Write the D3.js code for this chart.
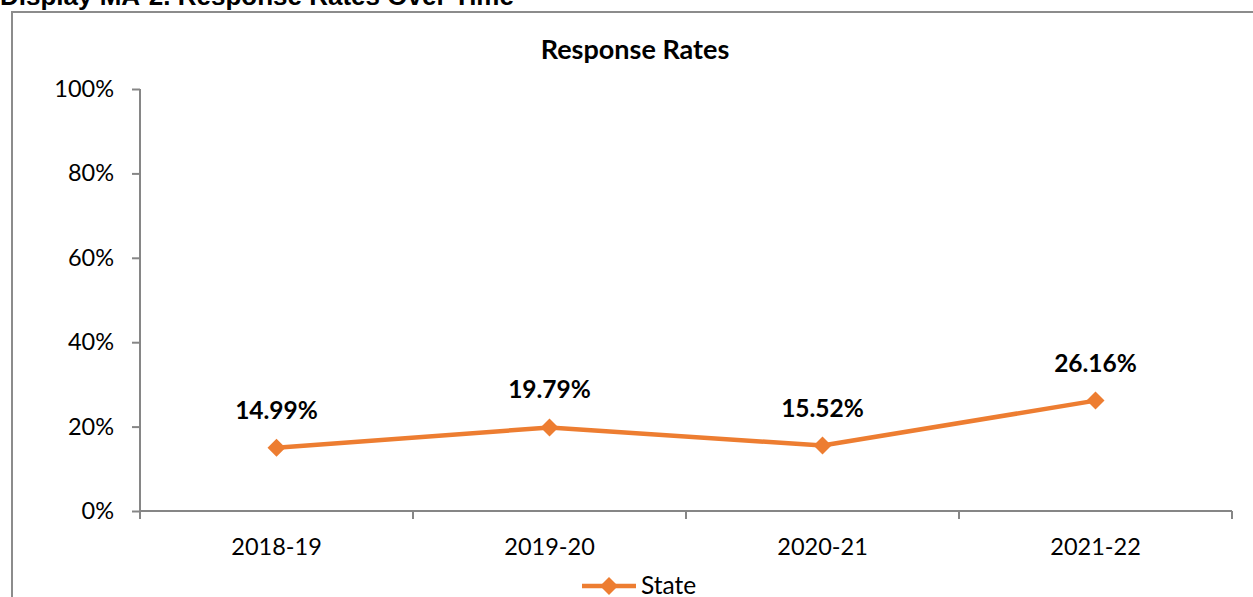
<!DOCTYPE html>
<html><head><meta charset="utf-8">
<script src="https://cdn.jsdelivr.net/npm/d3@7"></script>
<style>body{margin:0;background:#fff}svg{display:block}</style>
</head><body>
<script>
const categories = ["2018-19","2019-20","2020-21","2021-22"];
const stateValues = [14.99, 19.79, 15.52, 26.16];
const yTicks = [0,20,40,60,80,100];
const seriesName = "State";
const chartTitle = "Response Rates";
const displayTitle = "Display MA-2. Response Rates Over Time";

const W = 1253, H = 597;
const svg = d3.select("body").append("svg").attr("width", W).attr("height", H);
const font = "Lato, 'Open Sans', sans-serif";
const orange = "#ED7D31", axisCol = "#868686";

// outer frame
svg.append("path").attr("d", `M12,${H+2} V12 H${W+2}`).attr("fill","none").attr("stroke","#8c8c8c").attr("stroke-width",2);
svg.append("text").attr("x",0).attr("y",5).attr("font-family","'Liberation Sans', Arial, sans-serif")
  .attr("font-weight","bold").attr("font-size",26).attr("fill","#000").text(displayTitle);

const x = d3.scaleBand().domain(categories).range([140, 1232]);
const y = d3.scaleLinear().domain([0,100]).range([511, 89]);

// chart title
svg.append("text").attr("x",635).attr("y",59).attr("text-anchor","middle").attr("font-family",font)
  .attr("font-weight","bold").attr("font-size",27).text(chartTitle);

// y axis
const yAxis = svg.append("g").attr("transform","translate(140,0)")
  .call(d3.axisLeft(y).tickValues(yTicks).tickFormat(d=>d+"%").tickSize(8).tickPadding(18));
yAxis.select(".domain").attr("stroke",axisCol).attr("stroke-width",2).attr("d","M0,89V511");
yAxis.selectAll(".tick line").attr("stroke",axisCol).attr("stroke-width",2);
yAxis.selectAll("text").attr("font-family",font).attr("font-size",23.5).attr("fill","#000");

// x axis
const xAxis = svg.append("g").attr("transform","translate(0,511)")
  .call(d3.axisBottom(x).tickSize(0));
xAxis.select(".domain").attr("stroke",axisCol).attr("stroke-width",2).attr("d","M140,0H1232");
xAxis.selectAll("text").attr("font-family",font).attr("font-size",23.5).attr("fill","#000")
  .attr("dy",null).attr("y",44);
const bounds = categories.map(c=>x(c)).concat([x.range()[1]]);
svg.append("g").selectAll("line").data(bounds).join("line")
  .attr("x1",d=>d).attr("x2",d=>d).attr("y1",511).attr("y2",519)
  .attr("stroke",axisCol).attr("stroke-width",2);

const cx = c => x(c) + x.bandwidth()/2;
const line = d3.line().x((d,i)=>cx(categories[i])).y(d=>y(d));
svg.append("path").datum(stateValues).attr("d",line).attr("fill","none")
  .attr("stroke",orange).attr("stroke-width",4.5).attr("stroke-linejoin","round");

function dia(g, px, py, r){
  g.append("path").attr("d",`M${px},${py-r}L${px+r},${py}L${px},${py+r}L${px-r},${py}Z`).attr("fill",orange);
}
stateValues.forEach((v,i)=>{
  dia(svg, cx(categories[i]), y(v), 9);
  svg.append("text").attr("x",cx(categories[i])).attr("y",y(v)-29).attr("text-anchor","middle")
    .attr("font-family",font).attr("font-weight","bold").attr("font-size",24.5).text(v.toFixed(2)+"%");
});

// legend
svg.append("line").attr("x1",582).attr("x2",636).attr("y1",586).attr("y2",586).attr("stroke",orange).attr("stroke-width",4.5);
dia(svg, 609, 586, 9);
svg.append("text").attr("x",641).attr("y",594).attr("font-family",font).attr("font-size",24.5).text(seriesName);
</script>
</body></html>
